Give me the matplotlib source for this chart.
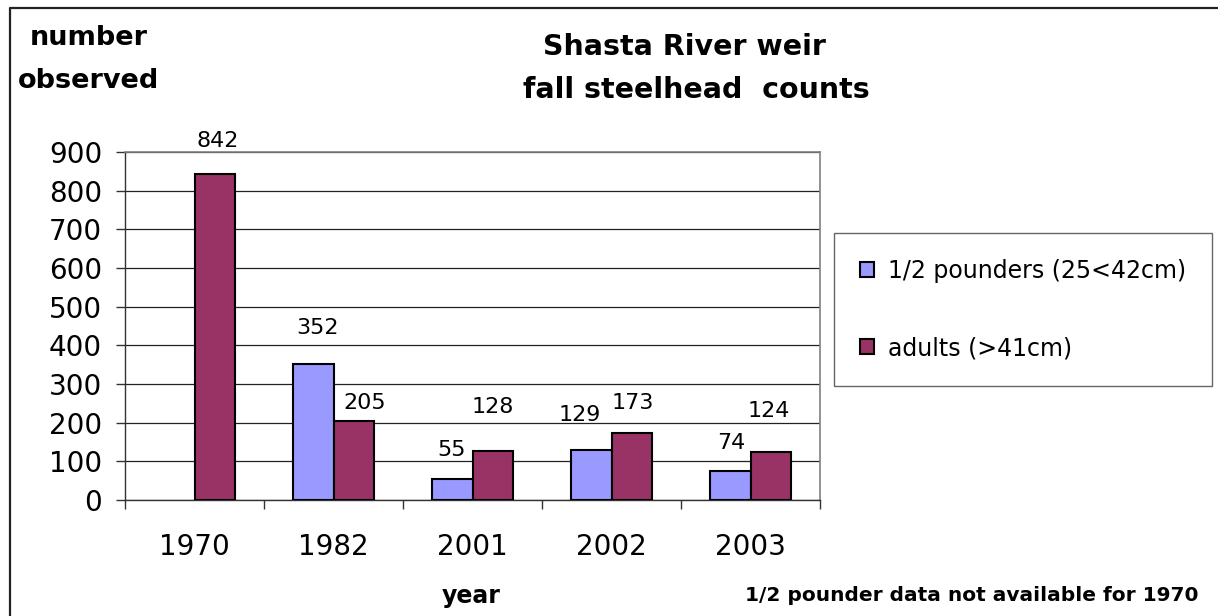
import numpy as np
import matplotlib
matplotlib.use('Agg')
import matplotlib.pyplot as plt
from matplotlib.lines import Line2D

# data
years = ['1970', '1982', '2001', '2002', '2003']
half_pounders = [np.nan, 352, 55, 129, 74]
adults = [842, 205, 128, 173, 124]
series_names = ['1/2 pounders (25<42cm)', 'adults (>41cm)']

# hand placed value labels (offset from bar top, in pixels)
half_dx = [0, 4, -1, -12, 1]
half_dy = [0, 36, 29, 35, 28]
adult_dx = [3, 11, 0, 1, -2]
adult_dy = [33, 18, 44, 30, 41]

plt.rcParams['font.family'] = ['DejaVu Sans']

W, H = 1218, 616
fig = plt.figure(figsize=(W / 100, H / 100), dpi=100)
ax = fig.add_axes([125 / W, 1 - 500 / H, 695 / W, 348 / H])

x = np.arange(len(years))
w = 0.288
b1 = ax.bar(x - w / 2, half_pounders, w, color='#9999FF', edgecolor='black',
            linewidth=1.5, label=series_names[0], zorder=3)
b2 = ax.bar(x + w / 2, adults, w, color='#993366', edgecolor='black',
            linewidth=1.5, label=series_names[1], zorder=3)

# value labels
for i in range(len(years)):
    if not np.isnan(half_pounders[i]):
        ax.annotate(str(int(half_pounders[i])), (x[i] - w / 2, half_pounders[i]),
                    xytext=(half_dx[i], half_dy[i]), textcoords='offset pixels',
                    ha='center', va='center', fontsize=16)
    ax.annotate(str(adults[i]), (x[i] + w / 2, adults[i]),
                xytext=(adult_dx[i], adult_dy[i]), textcoords='offset pixels',
                ha='center', va='center', fontsize=16)

ax.set_xlim(-0.5, len(years) - 0.5)
ax.set_ylim(0, 900)
ax.set_yticks(range(0, 1000, 100))
ax.tick_params(axis='y', length=6.5, width=1, pad=10, labelsize=20, color='#333333')

ax.set_xticks(np.arange(-0.5, len(years), 1))
ax.set_xticks(x, minor=True)
ax.set_xticklabels(years, minor=True)
ax.tick_params(axis='x', which='major', length=6.5, width=1, labelbottom=False,
               color='#333333')
ax.tick_params(axis='x', which='minor', length=0, pad=24, labelsize=20)

ax.yaxis.grid(True, color='#222222', linewidth=0.9)
ax.set_axisbelow(True)
for s in ['top', 'right']:
    ax.spines[s].set_color('#808080')
    ax.spines[s].set_linewidth(1.2)
for s in ['left', 'bottom']:
    ax.spines[s].set_color('#333333')
    ax.spines[s].set_linewidth(1.0)

leg = fig.legend(handles=[b1, b2], loc='upper left',
                 bbox_to_anchor=(834 / W, 1 - 233 / H), fontsize=17,
                 handlelength=0.6, handleheight=0.6, handletextpad=0.6,
                 borderpad=1.1, labelspacing=2.25, fancybox=False,
                 borderaxespad=0)
leg.get_frame().set_edgecolor('#404040')
leg.get_frame().set_linewidth(1.0)

# titles and notes
fig.text(684 / W, 1 - 55 / H, 'Shasta River weir', ha='center', va='baseline',
         fontsize=20.5, fontweight='bold')
fig.text(696 / W, 1 - 98 / H, 'fall steelhead  counts', ha='center',
         va='baseline', fontsize=20.5, fontweight='bold')
fig.text(89 / W, 1 - 45 / H, 'number', ha='center', va='baseline',
         fontsize=19.5, fontweight='bold')
fig.text(89 / W, 1 - 88 / H, 'observed', ha='center', va='baseline',
         fontsize=19.5, fontweight='bold')
fig.text(471 / W, 1 - 603 / H, 'year', ha='center', va='baseline',
         fontsize=17, fontweight='bold')
fig.text(972 / W, 1 - 601 / H, '1/2 pounder data not available for 1970',
         ha='center', va='baseline', fontsize=14.5, fontweight='bold')

# outer chart frame (top and left edges visible)
fig.add_artist(Line2D([10 / W, 10 / W, 1.01], [-0.01, 1 - 8 / H, 1 - 8 / H],
                      transform=fig.transFigure, color='#222222', linewidth=1.6))

fig.savefig('out.png', dpi=100)
